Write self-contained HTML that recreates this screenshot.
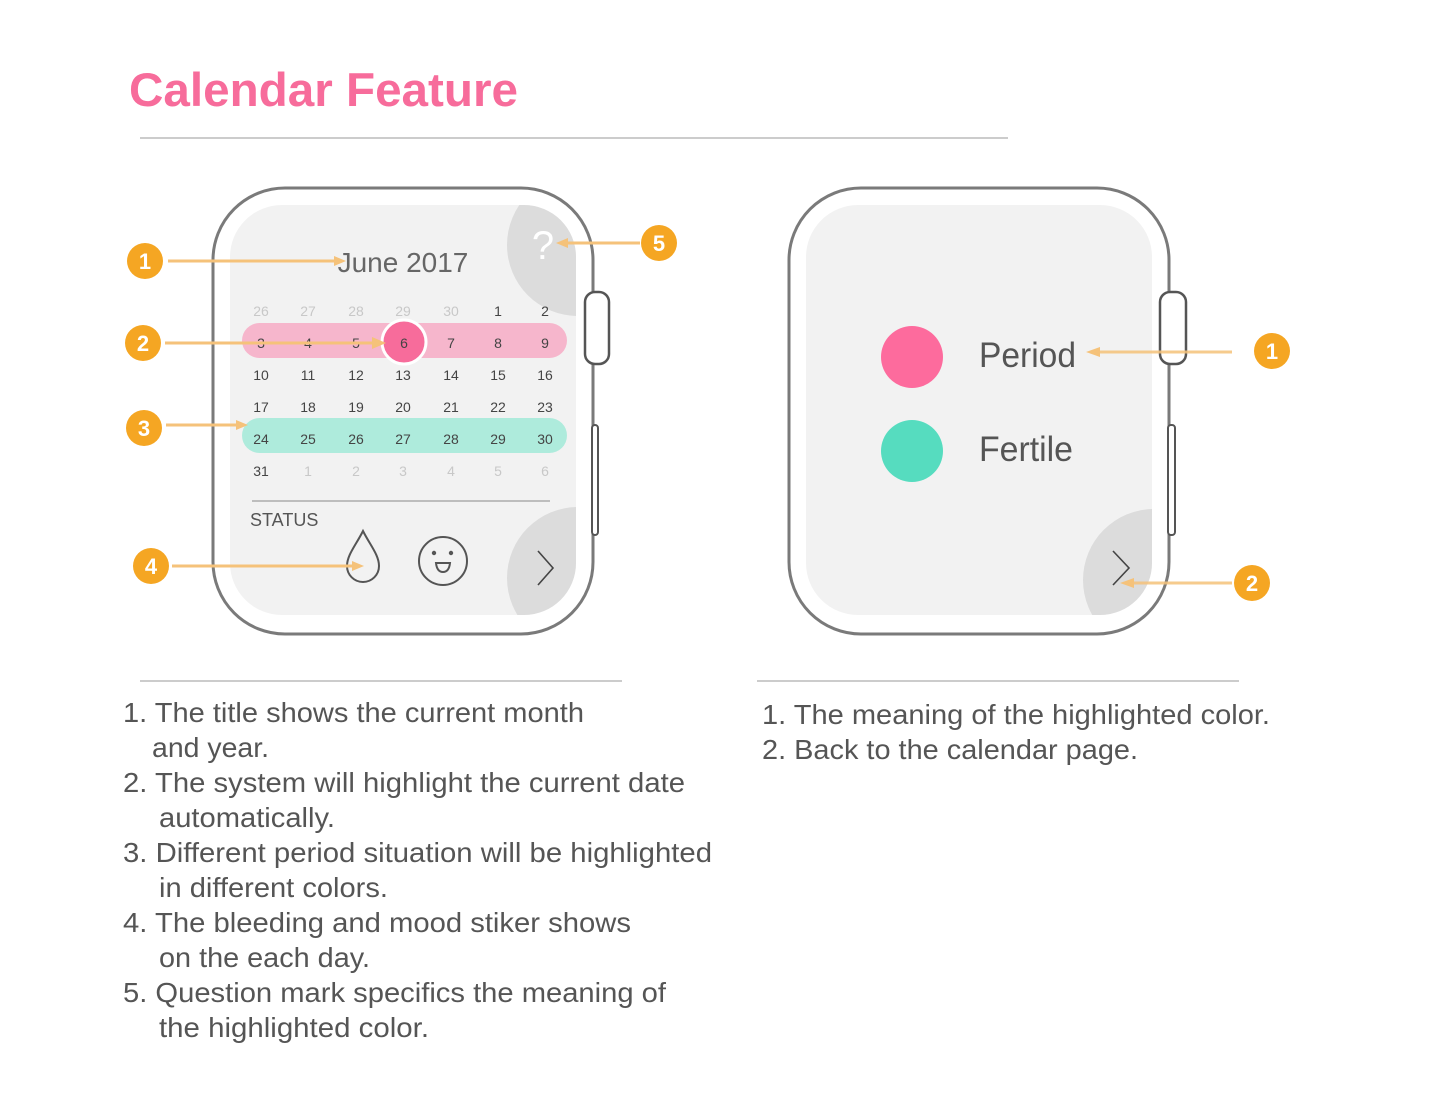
<!DOCTYPE html>
<html><head><meta charset="utf-8"><style>
html,body{margin:0;padding:0;background:#fff;}
svg{display:block;font-family:"Liberation Sans",sans-serif;}
</style></head><body>
<svg width="1431" height="1103" viewBox="0 0 1431 1103" xmlns="http://www.w3.org/2000/svg">
<defs>
<clipPath id="s1"><rect x="230" y="205" width="346" height="410" rx="52"/></clipPath>
<clipPath id="s2"><rect x="806" y="205" width="346" height="410" rx="52"/></clipPath>
</defs>
<text x="129" y="106" font-size="47" font-weight="bold" fill="#f76c9b" textLength="389" lengthAdjust="spacingAndGlyphs">Calendar Feature</text>
<line x1="140" y1="138" x2="1008" y2="138" stroke="#999" stroke-width="1"/>

<!-- LEFT WATCH -->
<rect x="213" y="188" width="380" height="446" rx="72" fill="#fff" stroke="#7a7a7a" stroke-width="3"/>
<rect x="585" y="292" width="24" height="72" rx="10" fill="#fff" stroke="#555" stroke-width="2.5"/>
<rect x="592" y="425" width="6" height="110" rx="3" fill="#fff" stroke="#555" stroke-width="2"/>
<rect x="230" y="205" width="346" height="410" rx="52" fill="#f2f2f2"/>
<g clip-path="url(#s1)">
<circle cx="578" cy="245" r="71" fill="#dcdcdc"/>
<circle cx="578" cy="578" r="71" fill="#dcdcdc"/>
</g>
<text x="543" y="259" font-size="40" fill="#fff" text-anchor="middle">?</text>
<text x="403" y="272" font-size="28" fill="#666" text-anchor="middle">June 2017</text>
<rect x="242" y="323" width="325" height="35" rx="17.5" fill="#f6b6cc"/>
<rect x="242" y="418" width="325" height="35" rx="17.5" fill="#aeebdc"/>
<circle cx="404" cy="342" r="22" fill="#f76c9b" stroke="#fff" stroke-width="3"/>
<g font-size="14" text-anchor="middle" fill="#444">
<g fill="#c8c8c8"><text x="261" y="316">26</text><text x="308" y="316">27</text><text x="356" y="316">28</text><text x="403" y="316">29</text><text x="451" y="316">30</text></g>
<text x="498" y="316">1</text><text x="545" y="316">2</text>
<text x="261" y="348">3</text><text x="308" y="348">4</text><text x="356" y="348">5</text><text x="404" y="348">6</text><text x="451" y="348">7</text><text x="498" y="348">8</text><text x="545" y="348">9</text>
<text x="261" y="380">10</text><text x="308" y="380">11</text><text x="356" y="380">12</text><text x="403" y="380">13</text><text x="451" y="380">14</text><text x="498" y="380">15</text><text x="545" y="380">16</text>
<text x="261" y="412">17</text><text x="308" y="412">18</text><text x="356" y="412">19</text><text x="403" y="412">20</text><text x="451" y="412">21</text><text x="498" y="412">22</text><text x="545" y="412">23</text>
<text x="261" y="444">24</text><text x="308" y="444">25</text><text x="356" y="444">26</text><text x="403" y="444">27</text><text x="451" y="444">28</text><text x="498" y="444">29</text><text x="545" y="444">30</text>
<text x="261" y="476">31</text>
<g fill="#c8c8c8"><text x="308" y="476">1</text><text x="356" y="476">2</text><text x="403" y="476">3</text><text x="451" y="476">4</text><text x="498" y="476">5</text><text x="545" y="476">6</text></g>
</g>
<line x1="252" y1="501" x2="550" y2="501" stroke="#888" stroke-width="1"/>
<text x="250" y="526" font-size="18" fill="#555">STATUS</text>
<path d="M363 531 C356 545 347 555 347 566 A16 16 0 0 0 379 566 C379 555 370 545 363 531 Z" fill="none" stroke="#555" stroke-width="2"/>
<circle cx="443" cy="561" r="24" fill="none" stroke="#555" stroke-width="2"/>
<circle cx="434" cy="553" r="2.2" fill="#555"/><circle cx="451" cy="553" r="2.2" fill="#555"/>
<path d="M436 563 L450 563 Q449 572 443 572 Q437 572 436 563 Z" fill="none" stroke="#555" stroke-width="2"/>
<polyline points="538,551 553,568 538,585" fill="none" stroke="#444" stroke-width="1.6"/>

<!-- left annotations -->
<g stroke="#f5c27a" stroke-width="3">
<line x1="168" y1="261" x2="340" y2="261"/>
<line x1="165" y1="343" x2="378" y2="343"/>
<line x1="166" y1="425" x2="242" y2="425"/>
<line x1="172" y1="566" x2="358" y2="566"/>
<line x1="640" y1="243" x2="562" y2="243"/>
</g>
<g fill="#f5c27a">
<polygon points="346,261 334,256 334,266"/>
<polygon points="386,343 372,337 372,349"/>
<polygon points="248,425 236,420 236,430"/>
<polygon points="364,566 352,561 352,571"/>
<polygon points="556,243 568,238 568,248"/>
</g>
<g fill="#f5a623"><circle cx="145" cy="261" r="18"/><circle cx="143" cy="343" r="18"/><circle cx="144" cy="428" r="18"/><circle cx="151" cy="566" r="18"/><circle cx="659" cy="243" r="18"/></g>
<g fill="#fff" font-size="22" font-weight="bold" text-anchor="middle">
<text x="145" y="269">1</text><text x="143" y="351">2</text><text x="144" y="436">3</text><text x="151" y="574">4</text><text x="659" y="251">5</text>
</g>

<!-- RIGHT WATCH -->
<rect x="789" y="188" width="380" height="446" rx="72" fill="#fff" stroke="#7a7a7a" stroke-width="3"/>
<rect x="1160" y="292" width="26" height="72" rx="10" fill="#fff" stroke="#555" stroke-width="2.5"/>
<rect x="1168" y="425" width="7" height="110" rx="3" fill="#fff" stroke="#555" stroke-width="2"/>
<rect x="806" y="205" width="346" height="410" rx="52" fill="#f2f2f2"/>
<g clip-path="url(#s2)"><circle cx="1154" cy="580" r="71" fill="#dcdcdc"/></g>
<polyline points="1113,551 1129,568 1113,585" fill="none" stroke="#444" stroke-width="1.6"/>
<circle cx="912" cy="357" r="31" fill="#fd6b9d"/>
<circle cx="912" cy="451" r="31" fill="#56dcbf"/>
<text x="979" y="367" font-size="35" fill="#555" textLength="97" lengthAdjust="spacingAndGlyphs">Period</text>
<text x="979" y="461" font-size="35" fill="#555" textLength="94" lengthAdjust="spacingAndGlyphs">Fertile</text>
<g stroke="#f5c27a" stroke-width="3" opacity="0.85">
<line x1="1232" y1="352" x2="1095" y2="352"/>
<line x1="1232" y1="583" x2="1128" y2="583"/>
</g>
<g fill="#f5c27a"><polygon points="1086,352 1100,347 1100,357"/><polygon points="1120,583 1134,578 1134,588"/></g>
<g fill="#f5a623"><circle cx="1272" cy="351" r="18"/><circle cx="1252" cy="583" r="18"/></g>
<g fill="#fff" font-size="22" font-weight="bold" text-anchor="middle">
<text x="1272" y="359">1</text><text x="1252" y="591">2</text>
</g>

<line x1="140" y1="681" x2="622" y2="681" stroke="#999" stroke-width="1"/>
<line x1="757" y1="681" x2="1239" y2="681" stroke="#999" stroke-width="1"/>
<g font-size="28" fill="#555" lengthAdjust="spacingAndGlyphs">
<text x="123" y="722" textLength="461" lengthAdjust="spacingAndGlyphs">1. The title shows the current month</text>
<text x="152" y="757" textLength="117" lengthAdjust="spacingAndGlyphs">and year.</text>
<text x="123" y="792" textLength="562" lengthAdjust="spacingAndGlyphs">2. The system will highlight the current date</text>
<text x="159" y="827" textLength="176" lengthAdjust="spacingAndGlyphs">automatically.</text>
<text x="123" y="862" textLength="589" lengthAdjust="spacingAndGlyphs">3. Different period situation will be highlighted</text>
<text x="159" y="897" textLength="229" lengthAdjust="spacingAndGlyphs">in different colors.</text>
<text x="123" y="932" textLength="508" lengthAdjust="spacingAndGlyphs">4. The bleeding and mood stiker shows</text>
<text x="159" y="967" textLength="211" lengthAdjust="spacingAndGlyphs">on the each day.</text>
<text x="123" y="1002" textLength="543" lengthAdjust="spacingAndGlyphs">5. Question mark specifics the meaning of</text>
<text x="159" y="1037" textLength="270" lengthAdjust="spacingAndGlyphs">the highlighted color.</text>
<text x="762" y="724" textLength="508" lengthAdjust="spacingAndGlyphs">1. The meaning of the highlighted color.</text>
<text x="762" y="759" textLength="376" lengthAdjust="spacingAndGlyphs">2. Back to the calendar page.</text>
</g>
</svg>
</body></html>
